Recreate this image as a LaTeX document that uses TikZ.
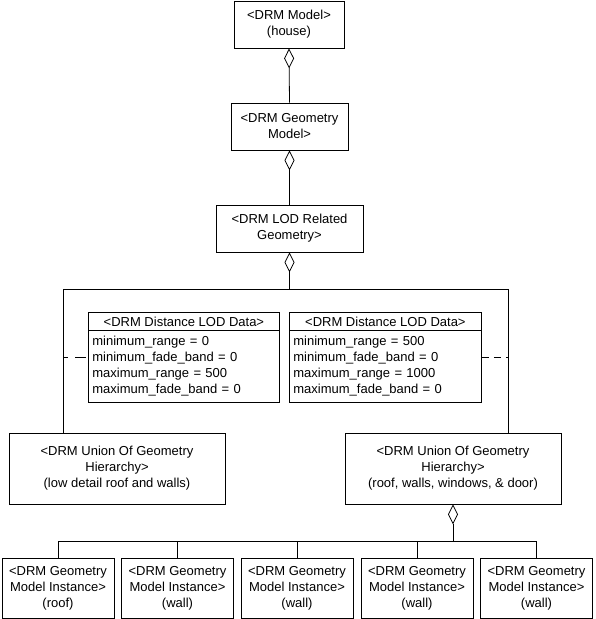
\documentclass[tikz,border=0pt]{standalone}
\usepackage{fontspec}
\setmainfont{Liberation Sans}
\usetikzlibrary{arrows.meta}
\begin{document}
\begin{tikzpicture}[x=1pt,y=-1pt,
  box/.style={draw, line width=0.8pt, align=center, inner sep=0pt,
    font=\fontsize{13}{16}\selectfont},
  hdr/.style={box, anchor=north west, minimum height=18pt},
  body/.style={draw, line width=0.8pt, align=left, anchor=north west,
    inner xsep=4pt, inner ysep=0pt, minimum height=72pt,
    font=\fontsize{13}{16}\selectfont},
  conn/.style={line width=0.8pt},
  agg/.style={conn, {Diamond[open,length=20pt,width=10pt]}-},
  dashline/.style={conn, dash pattern=on 11pt off 7pt, dash phase=6pt},
  dashline2/.style={conn, dash pattern=on 7pt off 5pt}]
\useasboundingbox (0,0) rectangle (595,619);
% top chain
\node[box, minimum width=110pt, minimum height=47pt] (model) at (289,24.5) {<DRM Model>\\(house)};
\node[box, minimum width=117pt, minimum height=47pt] (geom) at (289.5,126.5) {<DRM Geometry\\Model>};
\node[box, minimum width=147pt, minimum height=47pt] (lod) at (289.5,228.5) {<DRM LOD Related\\Geometry>};
% unions
\node[box, minimum width=216pt, minimum height=71pt] (lunion) at (117,468.5) {<DRM Union Of Geometry\\Hierarchy>\\(low detail roof and walls)};
\node[box, minimum width=216pt, minimum height=71pt] (runion) at (453,468.5) {<DRM Union Of Geometry\\Hierarchy>\\(roof, walls, windows, \& door)};
% distance LOD data
\node[hdr, minimum width=191pt] (lhdr) at (88,312) {<DRM Distance LOD Data>};
\node[body, text width=183pt] (lbody) at (88,330) {minimum\_range = 0\\minimum\_fade\_band = 0\\maximum\_range = 500\\maximum\_fade\_band = 0};
\node[hdr, minimum width=192pt] (rhdr) at (289,312) {<DRM Distance LOD Data>};
\node[body, text width=184pt] (rbody) at (289,330) {minimum\_range = 500\\minimum\_fade\_band = 0\\maximum\_range = 1000\\maximum\_fade\_band = 0};
% bottom instances
\node[box, minimum width=112pt, minimum height=60pt] (i1) at (58,588) {<DRM Geometry\\Model Instance>\\(roof)};
\node[box, minimum width=112pt, minimum height=60pt] (i2) at (177.5,588) {<DRM Geometry\\Model Instance>\\(wall)};
\node[box, minimum width=112pt, minimum height=60pt] (i3) at (297,588) {<DRM Geometry\\Model Instance>\\(wall)};
\node[box, minimum width=112pt, minimum height=60pt] (i4) at (417,588) {<DRM Geometry\\Model Instance>\\(wall)};
\node[box, minimum width=112pt, minimum height=60pt] (i5) at (536.5,588) {<DRM Geometry\\Model Instance>\\(wall)};
% connectors
\draw[agg] (model.south) -- (geom.north);
\draw[agg] (geom.south) -- (lod.north);
\coordinate (lj) at (63,289);
\coordinate (rj) at (508,289);
\draw[agg] (lod.south) -- (lod.south |- lj);
\draw[conn] (lunion.north -| lj) -- (lj) -- (rj) -- (runion.north -| rj);
\coordinate (ld) at (63,357);
\coordinate (rd) at (508,357);
\draw[dashline] (ld) -- (ld -| lbody.west);
\draw[dashline2] (rd -| rbody.east) -- (rd);
\coordinate (bj) at (453,541);
\draw[agg] (runion.south) -- (bj);
\draw[conn] (i1.north) |- (bj);
\draw[conn] (i5.north) |- (bj);
\draw[conn] (i2.north) -- (i2.north |- bj);
\draw[conn] (i3.north) -- (i3.north |- bj);
\draw[conn] (i4.north) -- (i4.north |- bj);
\end{tikzpicture}
\end{document}
